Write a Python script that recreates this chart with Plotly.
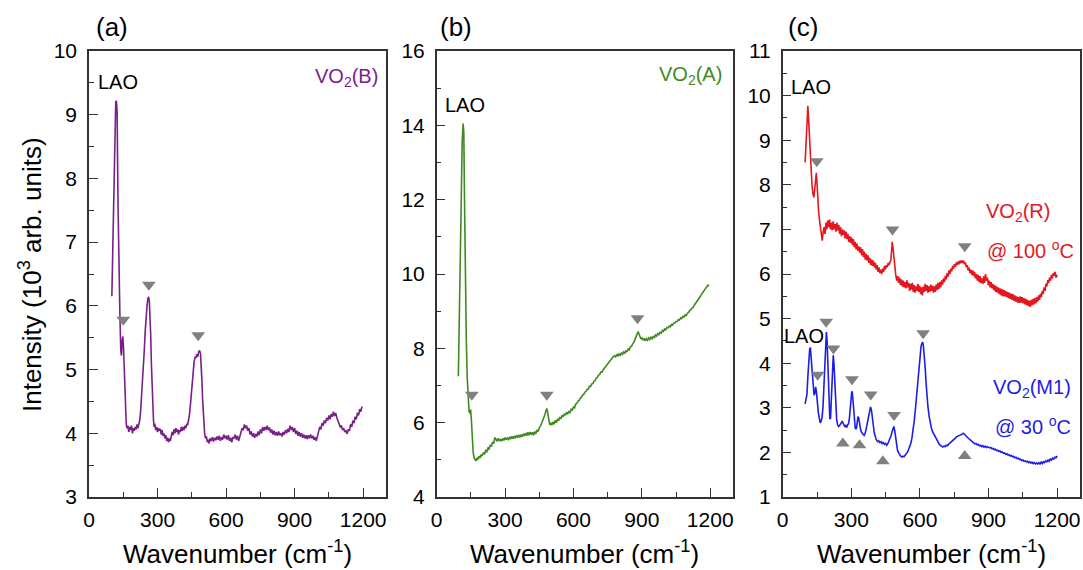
import plotly.graph_objects as go

# ---------------- data ----------------
# Panel (a): VO2(B)
wn_b = [100, 106, 112, 117, 120, 123, 127, 131, 135, 139, 142, 145, 148, 151, 154, 157, 160, 163, 166, 170,
        174, 178, 182, 186, 190, 194, 198, 202, 206, 210, 214, 218, 222, 226, 230, 234, 238, 242, 246, 250,
        254, 258, 261, 264, 267, 270, 273, 276, 279, 282, 285, 288, 292, 296, 300, 304, 308, 312, 316, 320,
        324, 328, 332, 336, 340, 344, 348, 352, 356, 360, 364, 368, 372, 376, 380, 384, 388, 392, 396, 400,
        404, 408, 412, 416, 420, 424, 428, 432, 436, 440, 444, 448, 452, 456, 460, 464, 468, 472, 476, 480,
        484, 488, 491, 494, 497, 500, 503, 506, 510, 514, 518, 522, 526, 530, 535, 540, 545, 550, 555, 560,
        565, 570, 575, 580, 585, 590, 595, 600, 605, 610, 615, 620, 625, 630, 635, 640, 645, 650, 655, 660,
        665, 670, 675, 680, 685, 690, 695, 700, 705, 710, 715, 720, 725, 730, 735, 740, 745, 750, 755, 760,
        765, 770, 775, 780, 785, 790, 795, 800, 805, 810, 815, 820, 825, 830, 835, 840, 845, 850, 855, 860,
        865, 870, 875, 880, 885, 890, 895, 900, 905, 910, 915, 920, 925, 930, 935, 940, 945, 950, 955, 960,
        965, 970, 975, 980, 985, 990, 995, 1000, 1005, 1010, 1015, 1020, 1025, 1030, 1035, 1040, 1045, 1050, 1055, 1060,
        1065, 1070, 1075, 1080, 1085, 1090, 1095, 1100, 1105, 1110, 1115, 1120, 1125, 1130, 1135, 1140, 1145, 1150, 1155, 1160,
        1165, 1170, 1175, 1180, 1185, 1190, 1195]
int_b = [6.15, 7.4, 8.8, 9.2, 9.22, 9.05, 7.6, 6.3, 5.9, 5.3, 5.22, 5.45, 5.52, 5.35, 5.0, 4.6, 4.3, 4.15, 4.08, 4.12,
         4.02, 4.1, 4.05, 4.12, 4.0, 4.08, 4.04, 4.1, 4.06, 4.14, 4.08, 4.13, 4.2, 4.35, 4.55, 4.75, 5.0, 5.3, 5.6, 5.85,
         6.0, 6.12, 6.14, 6.08, 5.9, 5.55, 5.1, 4.7, 4.4, 4.22, 4.1, 4.15, 4.05, 4.1, 4.02, 4.08, 4.04, 4.07, 3.98, 4.05,
         3.96, 4.0, 3.92, 3.97, 3.88, 3.93, 3.86, 3.92, 3.88, 3.95, 4.02, 3.97, 4.06, 4.0, 4.08, 4.02, 4.06, 3.98, 4.05, 4.02,
         4.1, 4.04, 4.1, 4.05, 4.12, 4.08, 4.15, 4.13, 4.2, 4.3, 4.45, 4.65, 4.85, 5.0, 5.12, 5.2, 5.18, 5.24, 5.2, 5.28,
         5.3, 5.25, 5.1, 4.85, 4.55, 4.3, 4.12, 4.0, 3.92, 3.95, 3.86, 3.9, 3.84, 3.92, 3.88, 3.94, 3.87, 3.93, 3.89, 3.95,
         3.9, 3.96, 3.88, 3.94, 3.9, 3.98, 3.92, 3.96, 3.9, 3.97, 3.88, 3.93, 3.86, 3.94, 3.92, 3.98, 3.9, 3.96, 3.88, 3.95,
         4.02, 4.08, 4.05, 4.14, 4.08, 4.12, 4.04, 4.08, 3.98, 4.03, 3.95, 4.0, 3.93, 3.99, 3.95, 4.03, 3.97, 4.06, 4.0, 4.1,
         4.04, 4.1, 4.05, 4.12, 4.05, 4.09, 4.01, 4.06, 3.98, 4.04, 3.97, 4.02, 3.96, 4.03, 3.97, 4.0, 3.95, 4.02, 3.98, 4.05,
         4.0, 4.07, 4.02, 4.12, 4.05, 4.1, 4.02, 4.08, 3.99, 4.04, 3.96, 4.02, 3.95, 4.0, 3.93, 3.98, 3.92, 3.97, 3.91, 3.97,
         3.92, 3.98, 3.92, 3.96, 3.9, 3.94, 3.88, 3.95, 4.02, 4.1, 4.06, 4.16, 4.12, 4.2, 4.16, 4.24, 4.2, 4.28, 4.22, 4.3,
         4.26, 4.34, 4.27, 4.32, 4.24, 4.2, 4.14, 4.1, 4.12, 4.05, 4.08, 4.02, 4.04, 3.99, 4.06, 4.04, 4.14, 4.1, 4.2, 4.16,
         4.26, 4.22, 4.32, 4.28, 4.38, 4.34, 4.42]

# Panel (b): VO2(A)
wn_a = [95, 101, 107, 112, 116, 119, 122, 126, 130, 134, 138, 142, 146, 149, 152, 156, 160, 164, 168, 172,
        176, 180, 185, 190, 195, 200, 205, 210, 215, 220, 225, 230, 235, 240, 245, 250, 255, 260, 265, 270,
        275, 280, 285, 290, 295, 300, 305, 310, 315, 320, 325, 330, 335, 340, 345, 350, 355, 360, 365, 370,
        375, 380, 385, 390, 395, 400, 405, 410, 415, 420, 425, 430, 435, 440, 445, 450, 455, 460, 465, 470,
        475, 479, 483, 486, 489, 492, 496, 500, 505, 510, 515, 520, 525, 530, 535, 540, 545, 550, 555, 560,
        565, 570, 575, 580, 585, 590, 595, 600, 605, 610, 615, 620, 625, 630, 635, 640, 645, 650, 655, 660,
        665, 670, 675, 680, 685, 690, 695, 700, 705, 710, 715, 720, 725, 730, 735, 740, 745, 750, 755, 760,
        765, 770, 775, 780, 785, 790, 795, 800, 805, 810, 815, 820, 825, 830, 835, 840, 845, 850, 855, 860,
        865, 870, 875, 880, 884, 888, 892, 896, 900, 905, 910, 915, 920, 925, 930, 935, 940, 945, 950, 955,
        960, 965, 970, 975, 980, 985, 990, 995, 1000, 1005, 1010, 1015, 1020, 1025, 1030, 1035, 1040, 1045, 1050, 1055,
        1060, 1065, 1070, 1075, 1080, 1085, 1090, 1095, 1100, 1105, 1110, 1115, 1120, 1125, 1130, 1135, 1140, 1145, 1150, 1155,
        1160, 1165, 1170, 1175, 1180, 1185, 1190, 1195]
int_a = [7.25, 9.5, 12.0, 13.6, 14.05, 13.8, 12.0, 9.6, 8.2, 7.2, 6.6, 6.3, 6.25, 6.35, 6.1, 5.6, 5.2, 5.05, 5.0, 4.97,
         5.05, 5.0, 5.1, 5.05, 5.14, 5.1, 5.2, 5.15, 5.25, 5.22, 5.32, 5.3, 5.4, 5.36, 5.48, 5.44, 5.6, 5.55, 5.5, 5.58,
         5.5, 5.56, 5.5, 5.58, 5.52, 5.6, 5.54, 5.6, 5.53, 5.62, 5.56, 5.63, 5.57, 5.64, 5.58, 5.66, 5.6, 5.67, 5.6, 5.68,
         5.62, 5.7, 5.64, 5.72, 5.65, 5.74, 5.66, 5.75, 5.68, 5.74, 5.66, 5.76, 5.7, 5.8, 5.76, 5.86, 5.9, 5.98, 6.05, 6.12,
         6.22, 6.32, 6.38, 6.3, 6.15, 6.0, 5.94, 6.0, 5.93, 6.02, 5.96, 6.06, 6.0, 6.1, 6.05, 6.15, 6.1, 6.2, 6.16, 6.24,
         6.2, 6.28, 6.24, 6.3, 6.27, 6.36, 6.34, 6.42, 6.4, 6.5, 6.52, 6.58, 6.6, 6.66, 6.68, 6.74, 6.76, 6.82, 6.84, 6.9,
         6.9, 6.98, 6.97, 7.04, 7.05, 7.12, 7.13, 7.2, 7.22, 7.28, 7.3, 7.36, 7.36, 7.42, 7.46, 7.5, 7.54, 7.58, 7.62, 7.68,
         7.7, 7.74, 7.78, 7.8, 7.76, 7.84, 7.8, 7.86, 7.8, 7.88, 7.84, 7.9, 7.86, 7.94, 7.9, 7.98, 7.96, 8.04, 8.06, 8.12,
         8.16, 8.24, 8.32, 8.4, 8.45, 8.38, 8.3, 8.25, 8.28, 8.22, 8.27, 8.2, 8.26, 8.22, 8.28, 8.24, 8.3, 8.26, 8.32, 8.28,
         8.36, 8.33, 8.4, 8.36, 8.44, 8.4, 8.48, 8.46, 8.52, 8.5, 8.56, 8.55, 8.6, 8.58, 8.64, 8.63, 8.68, 8.68, 8.72, 8.72,
         8.77, 8.76, 8.82, 8.8, 8.86, 8.84, 8.9, 8.88, 8.95, 8.96, 9.02, 9.03, 9.08, 9.1, 9.16, 9.2, 9.26, 9.28, 9.34, 9.38,
         9.44, 9.48, 9.52, 9.56, 9.6, 9.64, 9.7, 9.68]

# Panel (c): VO2(R) at 100 C
wn_r = [98, 103, 107, 110, 113, 116, 120, 124, 128, 132, 136, 140, 144, 147, 150, 153, 157, 161, 165, 169,
        173, 177, 181, 185, 189, 193, 197, 201, 205, 209, 213, 217, 221, 225, 229, 233, 237, 241, 245, 249,
        253, 257, 261, 265, 269, 273, 277, 281, 285, 289, 293, 297, 301, 305, 309, 313, 317, 321, 325, 329,
        333, 337, 341, 345, 349, 353, 357, 361, 365, 369, 373, 377, 381, 385, 389, 393, 397, 401, 405, 409,
        413, 417, 421, 425, 429, 433, 437, 441, 445, 449, 453, 457, 461, 465, 469, 473, 476, 479, 482, 485,
        488, 491, 495, 499, 503, 507, 511, 515, 519, 523, 527, 531, 535, 539, 543, 547, 551, 555, 559, 563,
        567, 571, 575, 579, 583, 587, 591, 595, 599, 603, 607, 611, 615, 619, 623, 627, 631, 635, 639, 643,
        647, 651, 655, 659, 663, 667, 671, 675, 679, 683, 687, 691, 695, 699, 703, 707, 711, 715, 719, 723,
        727, 731, 735, 739, 743, 747, 751, 755, 759, 763, 767, 771, 775, 779, 783, 787, 791, 795, 799, 803,
        807, 811, 815, 819, 823, 827, 831, 835, 839, 843, 847, 851, 855, 859, 863, 867, 871, 875, 879, 883,
        887, 891, 895, 899, 903, 907, 911, 915, 919, 923, 927, 931, 935, 939, 943, 947, 951, 955, 959, 963,
        967, 971, 975, 979, 983, 987, 991, 995, 999, 1003, 1007, 1011, 1015, 1019, 1023, 1027, 1031, 1035, 1039, 1043,
        1047, 1051, 1055, 1059, 1063, 1067, 1071, 1075, 1079, 1083, 1087, 1091, 1095, 1099, 1103, 1107, 1111, 1115, 1119, 1123,
        1127, 1131, 1135, 1139, 1143, 1147, 1151, 1155, 1159, 1163, 1167, 1171, 1175, 1179, 1183, 1187, 1191, 1195, 1200]
int_r = [8.5, 9.1, 9.6, 9.77, 9.5, 9.15, 8.7, 8.27, 8.0, 7.8, 7.72, 7.9, 8.2, 8.27, 8.05, 7.7, 7.4, 7.2, 7.05, 6.9,
         6.75, 6.95, 7.05, 6.9, 7.15, 7.0, 7.2, 7.05, 7.22, 7.0, 7.15, 6.98, 7.18, 7.0, 7.12, 6.95, 7.15, 6.98, 7.1, 6.9,
         7.05, 6.85, 7.0, 6.88, 6.98, 6.8, 6.95, 6.78, 6.9, 6.72, 6.85, 6.7, 6.82, 6.65, 6.78, 6.6, 6.72, 6.55, 6.68, 6.52,
         6.62, 6.48, 6.6, 6.42, 6.56, 6.38, 6.5, 6.32, 6.45, 6.3, 6.42, 6.25, 6.36, 6.2, 6.32, 6.18, 6.3, 6.15, 6.25, 6.1,
         6.2, 6.05, 6.15, 6.02, 6.1, 6.0, 6.12, 6.05, 6.18, 6.1, 6.2, 6.15, 6.25, 6.2, 6.3, 6.32, 6.5, 6.72, 6.6, 6.4,
         6.2, 6.05, 5.95, 5.85, 5.95, 5.8, 5.92, 5.75, 5.88, 5.72, 5.85, 5.7, 5.82, 5.68, 5.86, 5.7, 5.8, 5.62, 5.78, 5.65,
         5.8, 5.6, 5.75, 5.58, 5.72, 5.62, 5.78, 5.6, 5.74, 5.55, 5.7, 5.52, 5.72, 5.6, 5.78, 5.62, 5.75, 5.58, 5.72, 5.6,
         5.76, 5.62, 5.74, 5.58, 5.72, 5.6, 5.76, 5.64, 5.8, 5.66, 5.82, 5.7, 5.86, 5.76, 5.9, 5.82, 5.96, 5.88, 6.02, 5.94,
         6.08, 6.0, 6.12, 6.06, 6.18, 6.12, 6.22, 6.16, 6.26, 6.2, 6.28, 6.22, 6.3, 6.24, 6.3, 6.25, 6.3, 6.22, 6.26, 6.15,
         6.2, 6.08, 6.14, 6.02, 6.1, 5.98, 6.08, 5.95, 6.05, 5.9, 6.0, 5.85, 5.98, 5.82, 5.95, 5.8, 5.9, 5.78, 5.95, 5.8,
         6.0, 5.85, 5.92, 5.75, 5.85, 5.7, 5.82, 5.68, 5.78, 5.64, 5.75, 5.6, 5.72, 5.58, 5.7, 5.55, 5.68, 5.52, 5.66, 5.5,
         5.64, 5.5, 5.62, 5.48, 5.6, 5.46, 5.58, 5.44, 5.56, 5.42, 5.55, 5.4, 5.52, 5.38, 5.5, 5.36, 5.48, 5.35, 5.5, 5.36,
         5.48, 5.34, 5.46, 5.32, 5.44, 5.3, 5.42, 5.28, 5.4, 5.26, 5.42, 5.3, 5.44, 5.32, 5.46, 5.34, 5.48, 5.38, 5.52, 5.42,
         5.56, 5.48, 5.62, 5.55, 5.7, 5.62, 5.78, 5.72, 5.86, 5.8, 5.92, 5.85, 5.98, 5.9, 6.02, 5.96, 6.05, 5.92, 5.98]

# Panel (c): VO2(M1) at 30 C
wn_m1 = [98, 102, 106, 110, 114, 118, 121, 124, 127, 131, 134, 137, 140, 144, 147, 150, 153, 156, 160, 164,
         168, 172, 176, 179, 182, 185, 188, 191, 194, 197, 200, 203, 206, 209, 212, 215, 218, 221, 224, 227,
         230, 233, 236, 240, 244, 248, 252, 256, 260, 264, 268, 272, 276, 280, 284, 288, 292, 296, 299, 302,
         305, 308, 311, 314, 317, 320, 323, 326, 329, 332, 335, 338, 341, 344, 348, 352, 356, 360, 364, 368,
         372, 376, 380, 384, 388, 392, 396, 400, 404, 408, 412, 416, 420, 425, 430, 435, 440, 445, 450, 455,
         460, 465, 470, 474, 478, 482, 486, 490, 494, 498, 502, 506, 510, 515, 520, 525, 530, 535, 540, 545,
         550, 555, 560, 565, 570, 575, 580, 585, 590, 595, 600, 605, 609, 612, 615, 619, 623, 627, 631, 635,
         640, 645, 650, 655, 660, 665, 670, 675, 680, 685, 690, 695, 700, 705, 710, 715, 720, 725, 730, 735,
         740, 745, 750, 755, 760, 765, 770, 775, 780, 785, 790, 795, 800, 805, 810, 815, 820, 825, 830, 835,
         840, 845, 850, 855, 860, 865, 870, 875, 880, 885, 890, 895, 900, 905, 910, 915, 920, 925, 930, 935,
         940, 945, 950, 955, 960, 965, 970, 975, 980, 985, 990, 995, 1000, 1005, 1010, 1015, 1020, 1025, 1030, 1035,
         1040, 1045, 1050, 1055, 1060, 1065, 1070, 1075, 1080, 1085, 1090, 1095, 1100, 1105, 1110, 1115, 1120, 1125, 1130, 1135,
         1140, 1145, 1150, 1155, 1160, 1165, 1170, 1175, 1180, 1185, 1190, 1195, 1200]
int_m1 = [3.09, 3.2, 3.3, 3.7, 4.1, 4.32, 4.35, 4.15, 3.9, 3.6, 3.41, 3.28, 3.32, 3.47, 3.38, 3.26, 3.05, 2.88, 2.72, 2.66,
          2.7, 2.78, 3.0, 3.35, 3.85, 4.3, 4.6, 4.7, 4.5, 3.95, 3.4, 2.96, 2.76, 2.75, 3.1, 3.6, 4.0, 4.18, 4.0, 3.6,
          3.2, 2.9, 2.74, 2.62, 2.58, 2.6, 2.62, 2.66, 2.7, 2.66, 2.6, 2.57, 2.6, 2.56, 2.62, 2.64, 2.78, 3.0, 3.25, 3.37,
          3.32, 3.1, 2.85, 2.66, 2.55, 2.52, 2.55, 2.68, 2.8, 2.78, 2.66, 2.58, 2.5, 2.46, 2.42, 2.4, 2.38, 2.42, 2.5, 2.6,
          2.72, 2.88, 2.98, 3.02, 2.95, 2.82, 2.62, 2.45, 2.36, 2.3, 2.26, 2.24, 2.26, 2.22, 2.24, 2.2, 2.22, 2.18, 2.2, 2.16,
          2.2, 2.26, 2.3, 2.38, 2.46, 2.55, 2.58, 2.48, 2.3, 2.15, 2.05, 2.0, 1.96, 1.92, 1.9, 1.91, 1.9, 1.93, 1.96, 2.0,
          2.06, 2.12, 2.2, 2.32, 2.48, 2.7, 2.95, 3.25, 3.6, 3.95, 4.2, 4.38, 4.45, 4.47, 4.4, 4.2, 3.9, 3.55, 3.25, 3.03,
          2.82, 2.66, 2.55, 2.47, 2.42, 2.36, 2.3, 2.26, 2.22, 2.18, 2.16, 2.14, 2.12, 2.14, 2.13, 2.16, 2.15, 2.18, 2.2, 2.22,
          2.25, 2.27, 2.3, 2.32, 2.35, 2.36, 2.38, 2.39, 2.4, 2.41, 2.43, 2.4, 2.38, 2.35, 2.32, 2.3, 2.28, 2.26, 2.23, 2.21,
          2.19, 2.2, 2.17, 2.18, 2.15, 2.16, 2.13, 2.15, 2.12, 2.14, 2.11, 2.13, 2.12, 2.1, 2.11, 2.08, 2.09, 2.06, 2.07, 2.04,
          2.05, 2.02, 2.03, 2.0, 2.01, 1.98, 1.99, 1.96, 1.97, 1.94, 1.95, 1.92, 1.93, 1.9, 1.91, 1.88, 1.89, 1.86, 1.87, 1.84,
          1.85, 1.82, 1.83, 1.8, 1.81, 1.79, 1.8, 1.77, 1.79, 1.76, 1.78, 1.75, 1.77, 1.74, 1.76, 1.74, 1.77, 1.74, 1.78, 1.75,
          1.79, 1.77, 1.81, 1.79, 1.83, 1.8, 1.85, 1.83, 1.87, 1.85, 1.89, 1.88, 1.92]

# peak markers (gray triangles): position of each marker
mark_b_x = [150, 262, 478]
mark_b_y = [5.78, 6.33, 5.54]
mark_a_x = [154, 483, 881]
mark_a_y = [6.75, 6.75, 8.81]
mark_r_x = [149, 480, 796]
mark_r_y = [8.53, 7.0, 6.62]
mark_m1_down_x = [153, 190, 222, 303, 385, 487, 614]
mark_m1_down_y = [3.74, 4.93, 4.33, 3.64, 3.3, 2.84, 4.67]
mark_m1_up_x = [263, 336, 438, 796]
mark_m1_up_y = [2.2, 2.16, 1.8, 1.92]

# colours
C_B, C_A, C_R, C_M1, C_MARK = "#7a1f8a", "#3f8a22", "#e3171e", "#1d1de6", "#808080"
FONT = "Liberation Sans, Arial, sans-serif"

W, H = 1083, 570
def px_x(p):
    return p / W
def px_y(p):
    return 1 - p / H

doms = [(89, 386), (436.7, 733), (782.7, 1080)]
ydom = [px_y(497), px_y(51)]

fig = go.Figure()

def add_line(x, y, color, ax):
    fig.add_trace(go.Scatter(x=x, y=y, mode="lines", line=dict(color=color, width=1.6),
                             xaxis="x" + ax, yaxis="y" + ax, showlegend=False, hoverinfo="skip"))

def add_marks(x, y, symbol, ax):
    fig.add_trace(go.Scatter(x=x, y=y, mode="markers",
                             marker=dict(symbol=symbol, size=12, color=C_MARK, line=dict(width=0)),
                             xaxis="x" + ax, yaxis="y" + ax, showlegend=False, hoverinfo="skip"))

add_line(wn_b, int_b, C_B, "")
add_marks(mark_b_x, mark_b_y, "triangle-down", "")
add_line(wn_a, int_a, C_A, "2")
add_marks(mark_a_x, mark_a_y, "triangle-down", "2")
add_line(wn_r, int_r, C_R, "3")
add_line(wn_m1, int_m1, C_M1, "3")
add_marks(mark_r_x, mark_r_y, "triangle-down", "3")
add_marks(mark_m1_down_x, mark_m1_down_y, "triangle-down", "3")
add_marks(mark_m1_up_x, mark_m1_up_y, "triangle-up", "3")

axis_common = dict(showline=True, linecolor="#333333", linewidth=1.5, mirror=True, automargin=False,
                   showgrid=False, zeroline=False, ticks="inside", ticklen=9, tickwidth=1.3,
                   tickcolor="#333333", tickfont=dict(family=FONT, size=21, color="black"))

yranges = [(3, 10, 1, 0.5), (4, 16, 2, 1), (1, 11, 1, 0.5)]
layout = {}
for i, (d, yr) in enumerate(zip(doms, yranges)):
    sfx = "" if i == 0 else str(i + 1)
    layout["xaxis" + sfx] = dict(axis_common, domain=[px_x(d[0]), px_x(d[1])], range=[0, 1300],
                                  tickvals=[0, 300, 600, 900, 1200], anchor="y" + sfx,
                                  minor=dict(tickvals=[150, 450, 750, 1050], ticks="inside", ticklen=5,
                                             tickcolor="#333333", tickwidth=1.3),
                                  ticklabelstandoff=3)
    layout["yaxis" + sfx] = dict(axis_common, domain=ydom, range=[yr[0], yr[1]], dtick=yr[2], tick0=0,
                                  anchor="x" + sfx,
                                  minor=dict(dtick=yr[3], ticks="inside", ticklen=5,
                                             tickcolor="#333333", tickwidth=1.3),
                                  ticklabelstandoff=6)

annotations = []
def txt(text, x, y, size, color="black", xanchor="center", yanchor="middle", angle=0):
    annotations.append(dict(text=text, x=x, y=y, xref="paper", yref="paper", showarrow=False,
                            xanchor=xanchor, yanchor=yanchor, textangle=angle,
                            font=dict(family=FONT, size=size, color=color)))

# panel labels
txt("(a)", px_x(112), px_y(27), 26)
txt("(b)", px_x(456), px_y(27), 26)
txt("(c)", px_x(803), px_y(27), 26)
# axis titles
txt("Intensity (10<sup>3</sup> arb. units)", px_x(31), px_y(275), 26, angle=-90)
for d in doms:
    txt("Wavenumber (cm<sup>-1</sup>)", px_x((d[0] + d[1]) / 2), px_y(552), 26)
# in-plot labels
txt("LAO", px_x(118), px_y(82), 20)
txt("VO<sub>2</sub>(B)", px_x(380), px_y(78), 20, C_B, xanchor="right")
txt("LAO", px_x(465), px_y(105), 20)
txt("VO<sub>2</sub>(A)", px_x(724), px_y(76), 20, C_A, xanchor="right")
txt("LAO", px_x(811), px_y(87), 20)
txt("VO<sub>2</sub>(R)", px_x(1018), px_y(212), 20, C_R)
txt("@ 100 <sup>o</sup>C", px_x(1030), px_y(249), 20, C_R)
txt("LAO", px_x(804), px_y(336), 20)
txt("VO<sub>2</sub>(M1)", px_x(1032), px_y(388), 20, C_M1)
txt("@ 30 <sup>o</sup>C", px_x(1033), px_y(425), 20, C_M1)

fig.update_layout(**layout)
fig.update_layout(width=W, height=H, margin=dict(l=0, r=0, t=0, b=0, autoexpand=False),
                  paper_bgcolor="white", plot_bgcolor="white", annotations=annotations,
                  font=dict(family=FONT))

fig.write_html("out.html", config={"displayModeBar": False},
               post_script="document.body.style.margin='0px';document.body.style.overflow='hidden';")
